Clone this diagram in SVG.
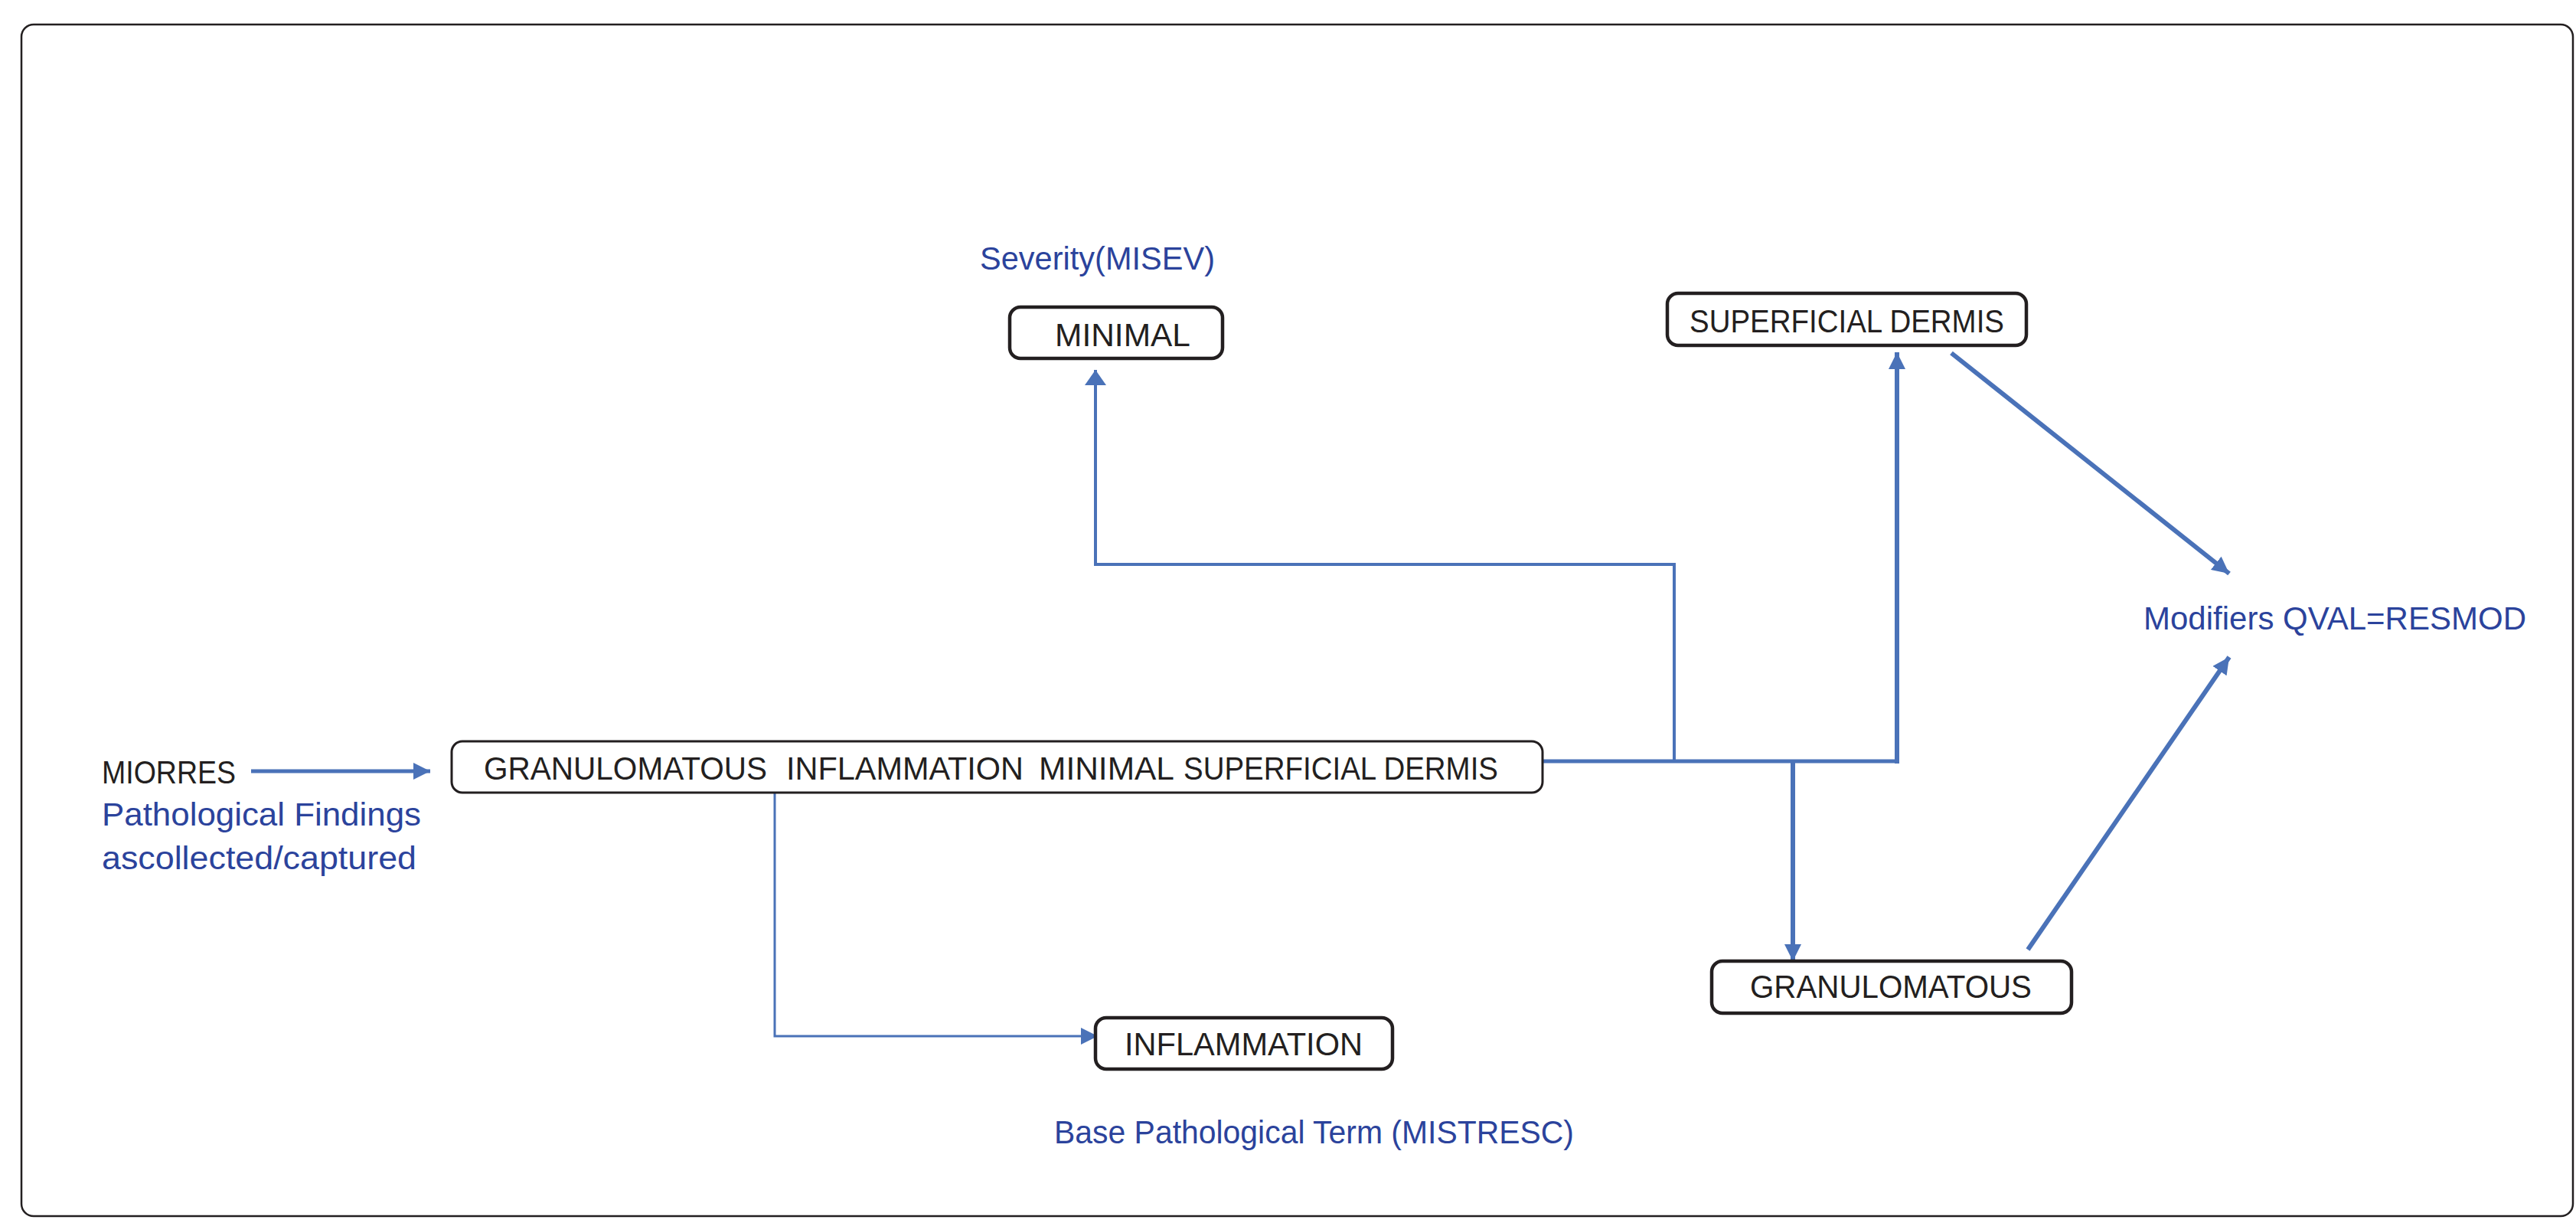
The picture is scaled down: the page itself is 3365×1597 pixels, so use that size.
<svg xmlns="http://www.w3.org/2000/svg" width="3365" height="1597" viewBox="0 0 3365 1597">
<style>
.box{fill:#fff;stroke:#231f20;stroke-width:4.5}
.node{font-family:"Liberation Sans",Arial,sans-serif;font-size:43px;fill:#231f20}
.lbl{font-family:"Liberation Sans",Arial,sans-serif;font-size:43px;fill:#2b439c}
.con{fill:none;stroke:#4a72b8;stroke-linejoin:miter}
</style>
<defs>
<marker id="ah" markerUnits="userSpaceOnUse" markerWidth="22" markerHeight="22" refX="22" refY="11" orient="auto" viewBox="0 0 22 22">
<path d="M0,0 L22,11 L0,22 z" fill="#4a72b8"/>
</marker>
<marker id="ahw" markerUnits="userSpaceOnUse" markerWidth="20" markerHeight="28" refX="20" refY="14" orient="auto" viewBox="0 0 20 28">
<path d="M0,0 L20,14 L0,28 z" fill="#4a72b8"/>
</marker>
</defs>
<rect x="28" y="32" width="3333" height="1556" rx="16" fill="#fff" stroke="#231f20" stroke-width="2.5"/>
<g id="connectors">
<line class="con" x1="328" y1="1007" x2="562" y2="1007" stroke-width="5" marker-end="url(#ah)"/>
<polyline class="con" points="2187,994 2187,737 1431,737 1431,483" stroke-width="4" marker-end="url(#ahw)"/>
<line class="con" x1="2015" y1="994" x2="2481" y2="994" stroke-width="5"/>
<line class="con" x1="2478" y1="997" x2="2478" y2="460" stroke-width="6" marker-end="url(#ah)"/>
<line class="con" x1="2342" y1="994" x2="2342" y2="1255" stroke-width="6" marker-end="url(#ah)"/>
<polyline class="con" points="1012,1035 1012,1353 1434,1353" stroke-width="3" marker-end="url(#ah)"/>
<line class="con" x1="2549" y1="461" x2="2912" y2="749" stroke-width="6" marker-end="url(#ah)"/>
<line class="con" x1="2649" y1="1240" x2="2912" y2="858" stroke-width="6" marker-end="url(#ah)"/>
</g>
<g id="miorres">
<text class="node" x="133" y="1023" textLength="175" lengthAdjust="spacingAndGlyphs">MIORRES</text>
<text class="lbl" x="133" y="1078" textLength="417" lengthAdjust="spacingAndGlyphs">Pathological Findings</text>
<text class="lbl" x="133" y="1135" textLength="411" lengthAdjust="spacingAndGlyphs">ascollected/captured</text>
</g>
<g id="main">
<rect x="590" y="968" width="1425" height="67" rx="14" fill="#fff" stroke="#231f20" stroke-width="3"/>
<text class="node" y="1018"><tspan x="632" textLength="370" lengthAdjust="spacingAndGlyphs">GRANULOMATOUS</tspan><tspan x="1027" textLength="310" lengthAdjust="spacingAndGlyphs">INFLAMMATION</tspan><tspan x="1357" textLength="177" lengthAdjust="spacingAndGlyphs">MINIMAL</tspan><tspan x="1546" textLength="411" lengthAdjust="spacingAndGlyphs">SUPERFICIAL DERMIS</tspan></text>
</g>
<g id="minimal">
<text class="lbl" x="1280" y="352" textLength="307" lengthAdjust="spacingAndGlyphs">Severity(MISEV)</text>
<rect class="box" x="1319" y="401" width="278" height="67" rx="14"/>
<text class="node" x="1378" y="452" textLength="177" lengthAdjust="spacingAndGlyphs">MINIMAL</text>
</g>
<g id="superficial">
<rect class="box" x="2178" y="383" width="469" height="68" rx="14"/>
<text class="node" x="2207" y="434" textLength="411" lengthAdjust="spacingAndGlyphs">SUPERFICIAL DERMIS</text>
</g>
<g id="modifiers">
<text class="lbl" x="2800" y="822" textLength="500" lengthAdjust="spacingAndGlyphs">Modifiers QVAL=RESMOD</text>
</g>
<g id="granulomatous">
<rect class="box" x="2236" y="1255" width="470" height="68" rx="14"/>
<text class="node" x="2286" y="1303" textLength="368" lengthAdjust="spacingAndGlyphs">GRANULOMATOUS</text>
</g>
<g id="inflammation">
<rect class="box" x="1431" y="1329" width="388" height="67" rx="14"/>
<text class="node" x="1469" y="1378" textLength="311" lengthAdjust="spacingAndGlyphs">INFLAMMATION</text>
<text class="lbl" x="1377" y="1493" textLength="679" lengthAdjust="spacingAndGlyphs">Base Pathological Term (MISTRESC)</text>
</g>
</svg>
